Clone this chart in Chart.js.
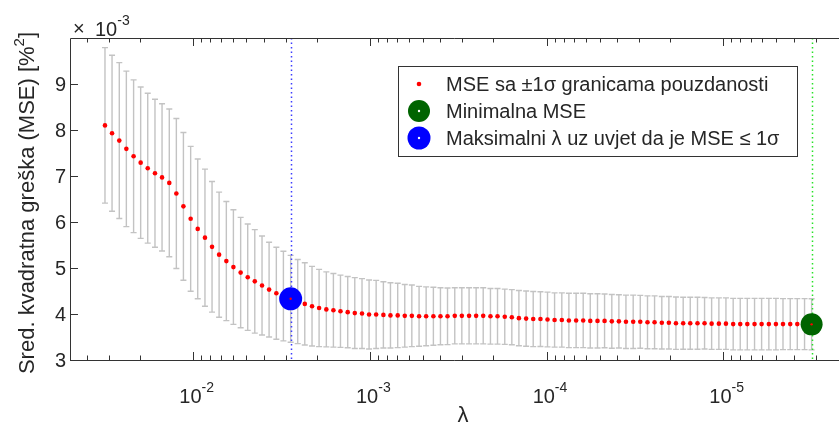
<!DOCTYPE html>
<html>
<head>
<meta charset="utf-8">
<script src="https://cdn.jsdelivr.net/npm/chart.js@4.4.1/dist/chart.umd.min.js"></script>
<style>
	body { margin: 0; background: #fff; overflow: hidden; }
	#wrap { width: 839px; height: 425px; }
	canvas { display: block; }
</style>
</head>
<body>
<div id="wrap"><canvas id="myChart" width="839" height="425"></canvas></div>
<script>
// log10 of lambda for each of the 100 fits
var log10Lambda = [
	-1.500,-1.540,-1.581,-1.621,-1.662,-1.702,-1.742,-1.783,-1.823,-1.864,
	-1.904,-1.944,-1.985,-2.025,-2.066,-2.106,-2.146,-2.187,-2.227,-2.268,
	-2.308,-2.348,-2.389,-2.429,-2.470,-2.510,-2.551,-2.591,-2.631,-2.672,
	-2.712,-2.753,-2.793,-2.833,-2.874,-2.914,-2.955,-2.995,-3.035,-3.076,
	-3.116,-3.157,-3.197,-3.237,-3.278,-3.318,-3.359,-3.399,-3.439,-3.480,
	-3.520,-3.561,-3.601,-3.641,-3.682,-3.722,-3.763,-3.803,-3.843,-3.884,
	-3.924,-3.965,-4.005,-4.045,-4.086,-4.126,-4.167,-4.207,-4.247,-4.288,
	-4.328,-4.369,-4.409,-4.449,-4.490,-4.530,-4.571,-4.611,-4.652,-4.692,
	-4.732,-4.773,-4.813,-4.854,-4.894,-4.934,-4.975,-5.015,-5.056,-5.096,
	-5.136,-5.177,-5.217,-5.258,-5.298,-5.338,-5.379,-5.419,-5.460,-5.500
];

// MSE (x 10^-3)
var mseMean = [
	8.10,7.93,7.77,7.59,7.43,7.29,7.17,7.06,6.97,6.85,
	6.62,6.34,6.07,5.85,5.66,5.46,5.29,5.15,5.02,4.90,
	4.80,4.71,4.62,4.53,4.45,4.39,4.33,4.27,4.22,4.17,
	4.13,4.10,4.08,4.06,4.04,4.02,4.01,3.99,3.99,3.98,
	3.97,3.97,3.96,3.96,3.95,3.95,3.95,3.95,3.95,3.96,
	3.96,3.96,3.96,3.96,3.95,3.95,3.94,3.93,3.91,3.90,
	3.89,3.89,3.88,3.87,3.87,3.86,3.86,3.86,3.85,3.85,
	3.85,3.84,3.84,3.83,3.83,3.83,3.82,3.82,3.81,3.81,
	3.80,3.80,3.80,3.80,3.80,3.79,3.79,3.79,3.78,3.78,
	3.78,3.78,3.78,3.78,3.78,3.78,3.78,3.78,3.78,3.775
];

// 1 sigma half width of the error bars (x 10^-3)
var mseSE = [
	1.69,1.695,1.695,1.69,1.66,1.645,1.63,1.61,1.60,1.605,
	1.63,1.605,1.575,1.52,1.49,1.42,1.36,1.295,1.245,1.20,
	1.155,1.125,1.075,1.03,1.00,0.975,0.945,0.915,0.895,0.865,
	0.84,0.815,0.80,0.785,0.775,0.77,0.76,0.75,0.74,0.72,
	0.71,0.70,0.68,0.67,0.65,0.64,0.63,0.62,0.615,0.61,
	0.61,0.61,0.61,0.61,0.605,0.605,0.60,0.60,0.60,0.60,
	0.60,0.595,0.595,0.59,0.59,0.59,0.59,0.59,0.59,0.59,
	0.585,0.585,0.58,0.58,0.58,0.575,0.575,0.575,0.57,0.57,
	0.57,0.565,0.565,0.565,0.56,0.56,0.56,0.56,0.56,0.56,
	0.56,0.56,0.56,0.56,0.56,0.555,0.555,0.555,0.555,0.555
];

var minMseIndex = 99;
var oneSeIndex  = 26;

var yTicks      = [3, 4, 5, 6, 7, 8, 9];
var xTickExps   = [-2, -3, -4, -5];
var legendLabels = [
	"MSE sa \u00b11\u03c3 granicama pouzdanosti",
	"Minimalna MSE",
	"Maksimalni \u03bb uz uvjet da je MSE \u2264 1\u03c3"
];
var yTitle = ["Sred. kvadratna gre\u0161ka (MSE) [%", "2", "]"];
var xTitle = "\u03bb";

var FONT = "'Liberation Sans', Arial, sans-serif";
var AXIS = "#333333";
var TEXT = "#262626";

var lambda = log10Lambda.map(function(v) { return Math.pow(10, v); });
var points = lambda.map(function(l, i) { return { x: l, y: mseMean[i] }; });
var minPt  = { x: lambda[minMseIndex], y: mseMean[minMseIndex] };
var sePt   = { x: lambda[oneSeIndex], y: mseMean[oneSeIndex] };

function supLabel(ctx, base, sup, x, y, size, supSize, supRise) {
	ctx.font = size + "px " + FONT;
	ctx.textAlign = "left";
	ctx.textBaseline = "alphabetic";
	ctx.fillText(base, x, y);
	var w = ctx.measureText(base).width;
	ctx.font = supSize + "px " + FONT;
	ctx.fillText(sup, x + w, y - supRise);
	return w + ctx.measureText(sup).width;
}

var lassoPlugin = {
	id: 'lasso',
	beforeDatasetsDraw: function(chart) {
		var ctx = chart.ctx, xs = chart.scales.x, ys = chart.scales.y, a = chart.chartArea;
		ctx.save();
		// error bars
		ctx.strokeStyle = "rgb(195,195,195)";
		ctx.lineWidth = 1.4;
		for (var i = 0; i < lambda.length; i++) {
			var px = xs.getPixelForValue(lambda[i]);
			var y1 = ys.getPixelForValue(mseMean[i] + mseSE[i]);
			var y2 = ys.getPixelForValue(mseMean[i] - mseSE[i]);
			ctx.beginPath();
			ctx.moveTo(px, y1); ctx.lineTo(px, y2);
			ctx.moveTo(px - 3, y1); ctx.lineTo(px + 3, y1);
			ctx.moveTo(px - 3, y2); ctx.lineTo(px + 3, y2);
			ctx.stroke();
		}
		// dotted markers for the two chosen lambdas
		ctx.lineWidth = 1.5;
		ctx.setLineDash([1.5, 3]);
		ctx.strokeStyle = "rgb(60,60,255)";
		var bx = Math.round(xs.getPixelForValue(sePt.x)) + 0.5;
		ctx.beginPath(); ctx.moveTo(bx, a.top); ctx.lineTo(bx, a.bottom); ctx.stroke();
		ctx.strokeStyle = "rgb(40,225,40)";
		var gx = Math.round(xs.getPixelForValue(minPt.x)) + 0.5;
		ctx.beginPath(); ctx.moveTo(gx, a.top); ctx.lineTo(gx, a.bottom); ctx.stroke();
		ctx.restore();
	},
	afterDraw: function(chart) {
		var ctx = chart.ctx, xs = chart.scales.x, ys = chart.scales.y, a = chart.chartArea;
		ctx.save();
		// box
		ctx.strokeStyle = AXIS;
		ctx.lineWidth = 1;
		ctx.beginPath();
		ctx.moveTo(a.right, a.top + 0.5); ctx.lineTo(a.left + 0.5, a.top + 0.5);
		ctx.lineTo(a.left + 0.5, a.bottom + 0.5); ctx.lineTo(a.right, a.bottom + 0.5);
		ctx.stroke();

		// y ticks + labels
		ctx.fillStyle = TEXT;
		ctx.font = "20px " + FONT;
		ctx.textAlign = "right";
		ctx.textBaseline = "middle";
		yTicks.forEach(function(t) {
			var py = Math.round(ys.getPixelForValue(t)) + 0.5;
			ctx.beginPath(); ctx.moveTo(a.left, py); ctx.lineTo(a.left + 8, py); ctx.stroke();
			ctx.fillText(String(t), 66, py + 1);
		});

		// x ticks (log, inward, top and bottom)
		for (var k = -7; k <= -1; k++) {
			for (var m = 1; m <= 9; m++) {
				var v = m * Math.pow(10, k);
				if (v < xs.min || v > xs.max) continue;
				var px = Math.round(xs.getPixelForValue(v)) + 0.5;
				var len = (m === 1) ? 8 : 4.5;
				ctx.beginPath();
				ctx.moveTo(px, a.bottom); ctx.lineTo(px, a.bottom - len);
				ctx.moveTo(px, a.top); ctx.lineTo(px, a.top + len);
				ctx.stroke();
			}
		}
		ctx.fillStyle = TEXT;
		xTickExps.forEach(function(e) {
			var px = xs.getPixelForValue(Math.pow(10, e));
			supLabel(ctx, "10", String(e), px - 14, 403, 20, 14, 11);
		});

		// axis titles
		ctx.font = "22px " + FONT;
		ctx.textAlign = "center";
		ctx.textBaseline = "alphabetic";
		ctx.fillText(xTitle, 463, 422);

		ctx.save();
		ctx.translate(34, 203);
		ctx.rotate(-Math.PI / 2);
		ctx.font = "22px " + FONT;
		var w0 = ctx.measureText(yTitle[0]).width;
		ctx.font = "15px " + FONT;
		var w1 = ctx.measureText(yTitle[1]).width;
		ctx.font = "22px " + FONT;
		var w2 = ctx.measureText(yTitle[2]).width;
		var sx = -(w0 + w1 + w2) / 2;
		ctx.textAlign = "left";
		ctx.fillText(yTitle[0], sx, 0);
		ctx.font = "15px " + FONT;
		ctx.fillText(yTitle[1], sx + w0, -10);
		ctx.font = "22px " + FONT;
		ctx.fillText(yTitle[2], sx + w0 + w1, 0);
		ctx.restore();

		// exponent of y axis
		ctx.font = "20px " + FONT;
		ctx.textAlign = "left";
		ctx.fillText("\u00d7", 73, 35);
		supLabel(ctx, "10", "-3", 95, 36, 20, 14, 11);

		// legend
		var lx = 398.5, ly = 66.5, lw = 399, lh = 90;
		ctx.fillStyle = "#fff";
		ctx.fillRect(lx, ly, lw, lh);
		ctx.strokeStyle = AXIS;
		ctx.lineWidth = 1;
		ctx.strokeRect(lx, ly, lw, lh);
		var rows = [84, 111, 138];
		var markers = [
			{ r: 2.3, c: "#ff0000" },
			{ r: 11, c: "#006400" },
			{ r: 11.5, c: "#0000ff" }
		];
		for (var j = 0; j < rows.length; j++) {
			ctx.beginPath();
			ctx.fillStyle = markers[j].c;
			ctx.arc(419, rows[j], markers[j].r, 0, Math.PI * 2);
			ctx.fill();
			if (j > 0) {
				ctx.beginPath();
				ctx.fillStyle = "#fff";
				ctx.arc(419, rows[j], 1.2, 0, Math.PI * 2);
				ctx.fill();
			}
			ctx.fillStyle = TEXT;
			ctx.font = "20px " + FONT;
			ctx.textAlign = "left";
			ctx.textBaseline = "middle";
			ctx.fillText(legendLabels[j], 446, rows[j] + 1);
		}
		ctx.restore();
	}
};

var ctx = document.getElementById("myChart");
var myChart = new Chart(ctx, {
	type: 'scatter',
	data: {
		datasets: [
			{
				label: "centre",
				data: [minPt, sePt],
				pointRadius: 1.2,
				pointBackgroundColor: "#ff0000",
				pointBorderWidth: 0,
				order: 1
			},
			{
				label: legendLabels[1],
				data: [minPt],
				pointRadius: 11,
				pointBackgroundColor: "#006400",
				pointBorderColor: "#006400",
				pointBorderWidth: 0,
				order: 2
			},
			{
				label: legendLabels[2],
				data: [sePt],
				pointRadius: 11.5,
				pointBackgroundColor: "#0000ff",
				pointBorderColor: "#0000ff",
				pointBorderWidth: 0,
				order: 2
			},
			{
				label: legendLabels[0],
				data: points,
				pointRadius: 2.3,
				pointBackgroundColor: "#ff0000",
				pointBorderWidth: 0,
				order: 3
			}
		]
	},
	options: {
		responsive: false,
		animation: false,
		layout: { autoPadding: false, padding: { left: 70, top: 38, right: 0, bottom: 65 } },
		plugins: { legend: { display: false }, tooltip: { enabled: false } },
		scales: {
			x: {
				type: 'logarithmic',
				reverse: true,
				bounds: 'data',
				min: Math.pow(10, -5.655),
				max: Math.pow(10, -1.302),
				display: false
			},
			y: {
				type: 'linear',
				min: 3,
				max: 10,
				display: false
			}
		}
	},
	plugins: [lassoPlugin]
});
</script>
</body>
</html>
